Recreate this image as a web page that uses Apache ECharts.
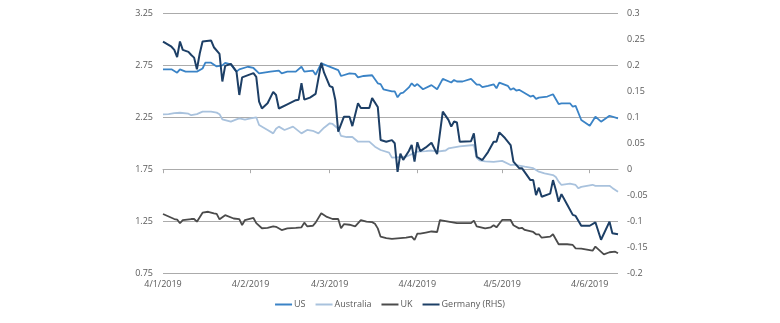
<!DOCTYPE html>
<html>
<head>
<meta charset="utf-8">
<script src="https://cdn.jsdelivr.net/npm/echarts@6/dist/echarts.min.js"></script>
<style>
html,body{margin:0;padding:0;background:#fff;}
#chart{width:780px;height:323px;}
</style>
</head>
<body>
<div id="chart"></div>
<script>
// ---- DATA ----
const seriesNames = ['US', 'Australia', 'UK', 'Germany (RHS)'];

const usData = [
 ['2019-01-04',2.712],['2019-01-07',2.712],['2019-01-09',2.68],['2019-01-10',2.712],['2019-01-12',2.69],
 ['2019-01-16',2.69],['2019-01-18',2.72],['2019-01-19',2.776],['2019-01-21',2.776],['2019-01-23',2.74],
 ['2019-01-25',2.75],['2019-01-26',2.775],['2019-01-28',2.76],['2019-01-30',2.69],['2019-01-31',2.712],
 ['2019-02-03',2.737],['2019-02-05',2.725],['2019-02-07',2.674],['2019-02-11',2.69],['2019-02-14',2.70],
 ['2019-02-15',2.674],['2019-02-17',2.69],['2019-02-20',2.69],['2019-02-22',2.737],['2019-02-23',2.69],
 ['2019-02-26',2.70],['2019-02-27',2.66],['2019-03-01',2.77],['2019-03-07',2.705],['2019-03-08',2.648],
 ['2019-03-11',2.674],['2019-03-13',2.668],['2019-03-14',2.635],['2019-03-16',2.648],['2019-03-19',2.655],
 ['2019-03-21',2.577],['2019-03-22',2.57],['2019-03-23',2.52],['2019-03-26',2.50],['2019-03-27',2.50],
 ['2019-03-28',2.443],['2019-03-29',2.48],['2019-03-30',2.487],['2019-04-01',2.538],['2019-04-02',2.577],
 ['2019-04-03',2.55],['2019-04-04',2.57],['2019-04-06',2.52],['2019-04-09',2.56],['2019-04-11',2.52],
 ['2019-04-13',2.62],['2019-04-16',2.585],['2019-04-17',2.61],['2019-04-18',2.595],['2019-04-20',2.595],
 ['2019-04-23',2.62],['2019-04-25',2.565],['2019-04-26',2.565],['2019-04-27',2.54],['2019-04-29',2.553],
 ['2019-05-01',2.568],['2019-05-02',2.53],['2019-05-03',2.584],['2019-05-06',2.553],['2019-05-07',2.515],
 ['2019-05-08',2.53],['2019-05-09',2.508],['2019-05-10',2.515],['2019-05-13',2.468],['2019-05-14',2.45],
 ['2019-05-15',2.458],['2019-05-16',2.427],['2019-05-17',2.44],['2019-05-20',2.45],['2019-05-22',2.472],
 ['2019-05-24',2.378],['2019-05-25',2.385],['2019-05-28',2.385],['2019-05-29',2.352],['2019-05-30',2.36],
 ['2019-06-01',2.224],['2019-06-04',2.169],['2019-06-06',2.256],['2019-06-08',2.208],['2019-06-11',2.265],
 ['2019-06-14',2.24]
];

const australiaData = [
 ['2019-01-04',2.279],['2019-01-06',2.28],['2019-01-08',2.29],['2019-01-10',2.294],['2019-01-13',2.285],
 ['2019-01-14',2.27],['2019-01-16',2.28],['2019-01-18',2.304],['2019-01-21',2.304],['2019-01-23',2.295],
 ['2019-01-24',2.28],['2019-01-25',2.23],['2019-01-28',2.208],['2019-01-30',2.23],['2019-01-31',2.24],
 ['2019-02-02',2.228],['2019-02-04',2.24],['2019-02-06',2.25],['2019-02-07',2.176],['2019-02-10',2.128],
 ['2019-02-12',2.095],['2019-02-13',2.14],['2019-02-14',2.16],['2019-02-16',2.128],['2019-02-19',2.16],
 ['2019-02-22',2.095],['2019-02-24',2.128],['2019-02-26',2.12],['2019-02-28',2.095],['2019-03-02',2.15],
 ['2019-03-04',2.192],['2019-03-05',2.186],['2019-03-07',2.14],['2019-03-08',2.07],['2019-03-10',2.06],
 ['2019-03-12',2.06],['2019-03-14',2.015],['2019-03-18',2.015],['2019-03-20',1.967],['2019-03-22',1.935],
 ['2019-03-25',1.91],['2019-03-26',1.861],['2019-03-31',1.87],['2019-04-04',1.919],['2019-04-07',1.925],
 ['2019-04-09',1.93],['2019-04-11',1.92],['2019-04-14',1.93],['2019-04-15',1.95],['2019-04-17',1.96],
 ['2019-04-19',1.97],['2019-04-24',1.983],['2019-04-25',1.86],['2019-04-26',1.835],['2019-04-28',1.825],
 ['2019-05-01',1.82],['2019-05-04',1.83],['2019-05-07',1.79],['2019-05-08',1.795],['2019-05-12',1.774],
 ['2019-05-15',1.76],['2019-05-17',1.726],['2019-05-19',1.71],['2019-05-22',1.694],['2019-05-23',1.675],
 ['2019-05-24',1.63],['2019-05-25',1.598],['2019-05-28',1.61],['2019-05-30',1.598],['2019-05-31',1.566],
 ['2019-06-01',1.58],['2019-06-05',1.60],['2019-06-06',1.59],['2019-06-09',1.59],['2019-06-11',1.59],
 ['2019-06-12',1.57],['2019-06-14',1.533]
];

const ukData = [
 ['2019-01-04',1.318],['2019-01-08',1.27],['2019-01-09',1.265],['2019-01-10',1.229],['2019-01-11',1.26],
 ['2019-01-14',1.27],['2019-01-15',1.27],['2019-01-16',1.244],['2019-01-18',1.331],['2019-01-20',1.34],
 ['2019-01-22',1.325],['2019-01-23',1.32],['2019-01-24',1.267],['2019-01-26',1.307],['2019-01-29',1.275],
 ['2019-01-31',1.27],['2019-02-01',1.212],['2019-02-02',1.26],['2019-02-05',1.28],['2019-02-06',1.23],
 ['2019-02-08',1.181],['2019-02-10',1.185],['2019-02-12',1.20],['2019-02-13',1.195],['2019-02-15',1.164],
 ['2019-02-17',1.18],['2019-02-20',1.185],['2019-02-22',1.19],['2019-02-23',1.235],['2019-02-24',1.20],
 ['2019-02-26',1.205],['2019-02-27',1.235],['2019-03-01',1.325],['2019-03-03',1.29],['2019-03-05',1.27],
 ['2019-03-07',1.27],['2019-03-08',1.181],['2019-03-09',1.22],['2019-03-11',1.215],['2019-03-13',1.20],
 ['2019-03-15',1.26],['2019-03-17',1.245],['2019-03-19',1.24],['2019-03-20',1.225],['2019-03-21',1.18],
 ['2019-03-22',1.10],['2019-03-24',1.085],['2019-03-26',1.078],['2019-03-28',1.084],['2019-03-31',1.09],
 ['2019-04-02',1.10],['2019-04-03',1.068],['2019-04-04',1.13],['2019-04-05',1.13],['2019-04-07',1.14],
 ['2019-04-09',1.15],['2019-04-11',1.145],['2019-04-12',1.26],['2019-04-16',1.24],['2019-04-18',1.23],
 ['2019-04-21',1.23],['2019-04-23',1.23],['2019-04-24',1.255],['2019-04-25',1.20],['2019-04-28',1.18],
 ['2019-04-30',1.19],['2019-05-01',1.21],['2019-05-02',1.19],['2019-05-04',1.261],['2019-05-07',1.261],
 ['2019-05-08',1.21],['2019-05-10',1.18],['2019-05-11',1.185],['2019-05-12',1.165],['2019-05-15',1.145],
 ['2019-05-16',1.123],['2019-05-17',1.123],['2019-05-18',1.09],['2019-05-21',1.10],['2019-05-22',1.123],
 ['2019-05-24',1.027],['2019-05-27',1.027],['2019-05-29',1.02],['2019-05-30',0.988],['2019-06-01',0.985],
 ['2019-06-03',0.975],['2019-06-05',0.965],['2019-06-06',1.004],['2019-06-09',0.93],['2019-06-11',0.95],
 ['2019-06-13',0.955],['2019-06-14',0.94]
];

const germanyData = [
 ['2019-01-04',0.246],['2019-01-07',0.236],['2019-01-08',0.23],['2019-01-09',0.216],['2019-01-10',0.246],
 ['2019-01-11',0.23],['2019-01-13',0.226],['2019-01-14',0.22],['2019-01-15',0.215],['2019-01-16',0.1925],
 ['2019-01-17',0.223],['2019-01-18',0.246],['2019-01-21',0.248],['2019-01-22',0.235],['2019-01-24',0.222],
 ['2019-01-25',0.169],['2019-01-26',0.199],['2019-01-28',0.203],['2019-01-30',0.188],['2019-01-31',0.143],
 ['2019-02-01',0.177],['2019-02-05',0.185],['2019-02-06',0.178],['2019-02-07',0.13],['2019-02-08',0.117],
 ['2019-02-10',0.127],['2019-02-12',0.149],['2019-02-13',0.143],['2019-02-14',0.117],['2019-02-17',0.125],
 ['2019-02-20',0.133],['2019-02-21',0.134],['2019-02-22',0.166],['2019-02-23',0.134],['2019-02-25',0.138],
 ['2019-02-27',0.145],['2019-03-01',0.205],['2019-03-02',0.186],['2019-03-04',0.16],['2019-03-05',0.158],
 ['2019-03-06',0.133],['2019-03-07',0.0723],['2019-03-09',0.101],['2019-03-11',0.101],['2019-03-12',0.083],
 ['2019-03-14',0.127],['2019-03-15',0.118],['2019-03-18',0.118],['2019-03-19',0.137],['2019-03-21',0.12],
 ['2019-03-22',0.0563],['2019-03-24',0.053],['2019-03-26',0.056],['2019-03-27',0.05],['2019-03-28',-0.005],
 ['2019-03-29',0.03],['2019-03-30',0.018],['2019-04-01',0.035],['2019-04-02',0.047],['2019-04-03',0.0145],
 ['2019-04-04',0.052],['2019-04-05',0.035],['2019-04-07',0.042],['2019-04-09',0.051],['2019-04-11',0.029],
 ['2019-04-13',0.111],['2019-04-15',0.095],['2019-04-16',0.082],['2019-04-17',0.092],['2019-04-18',0.09],
 ['2019-04-19',0.053],['2019-04-23',0.054],['2019-04-24',0.069],['2019-04-25',0.024],['2019-04-27',0.0177],
 ['2019-04-29',0.033],['2019-05-01',0.053],['2019-05-02',0.053],['2019-05-03',0.071],['2019-05-05',0.06],
 ['2019-05-07',0.0466],['2019-05-08',0.0145],['2019-05-10',0.002],['2019-05-11',0.002],['2019-05-14',-0.021],
 ['2019-05-15',-0.021],['2019-05-16',-0.05],['2019-05-17',-0.0356],['2019-05-18',-0.053],['2019-05-21',-0.047],
 ['2019-05-22',-0.021],['2019-05-23',-0.04],['2019-05-24',-0.0626],['2019-05-25',-0.048],['2019-05-27',-0.068],
 ['2019-05-29',-0.088],['2019-05-30',-0.09],['2019-06-01',-0.109],['2019-06-04',-0.109],['2019-06-06',-0.1023],
 ['2019-06-08',-0.136],['2019-06-11',-0.101],['2019-06-12',-0.1235],['2019-06-14',-0.1255]
];

const xRange      = ['2019-01-04', '2019-06-14'];
const xTickDates  = ['2019-01-04','2019-02-04','2019-03-04','2019-04-04','2019-05-04','2019-06-04'];
const xTickLabels = ['4/1/2019','4/2/2019','4/3/2019','4/4/2019','4/5/2019','4/6/2019'];
const leftTicks   = [0.75, 1.25, 1.75, 2.25, 2.75, 3.25];
const rightTicks  = [-0.2, -0.15, -0.1, -0.05, 0, 0.05, 0.1, 0.15, 0.2, 0.25, 0.3];

// ---- CHART ----
const toTime = d => echarts.time.parse(d).getTime();
const chart = echarts.init(document.getElementById('chart'), null, {renderer: 'canvas'});
const font = '"Open Sans", "Noto Sans", sans-serif';
const labelColor = '#5a5a5a';
const gridColor = '#ababab';
const tickTimes = xTickDates.map(toTime);

const colors = ['#3a83c6', '#a9c2dd', '#4b4b4b', '#1d3f66'];
const widths = [1.8, 1.8, 1.8, 2];
const datas = [usData, australiaData, ukData, germanyData];

chart.setOption({
  animation: false,
  backgroundColor: '#ffffff',
  textStyle: {fontFamily: font},
  grid: {left: 163, right: 162, top: 13.5, bottom: 50, containLabel: false},
  legend: {
    bottom: 9, left: 'center',
    icon: 'rect', itemWidth: 17, itemHeight: 2, itemGap: 10,
    textStyle: {color: labelColor, fontSize: 9, fontFamily: font, padding: [0, 0, 0, -3]},
    data: seriesNames
  },
  xAxis: {
    type: 'value',
    min: toTime(xRange[0]),
    max: toTime(xRange[1]),
    axisLine: {show: true, lineStyle: {color: gridColor, width: 1}},
    axisTick: {show: true, length: 4, customValues: tickTimes, lineStyle: {color: gridColor}},
    axisLabel: {
      customValues: tickTimes,
      color: labelColor, fontSize: 9, fontFamily: font, margin: 7,
      formatter: function (v) {
        const i = tickTimes.indexOf(v);
        return i >= 0 ? xTickLabels[i] : '';
      }
    },
    splitLine: {show: false}
  },
  yAxis: [
    {
      type: 'value', position: 'left',
      min: 0.75, max: 3.25,
      axisLine: {show: false},
      axisTick: {show: false, customValues: leftTicks},
      axisLabel: {customValues: leftTicks, color: labelColor, fontSize: 9, fontFamily: font, margin: 10,
                  formatter: v => v.toFixed(2)},
      splitLine: {show: true, lineStyle: {color: gridColor, width: 1}}
    },
    {
      type: 'value', position: 'right',
      min: -0.2, max: 0.3,
      axisLine: {show: false},
      axisTick: {show: false, customValues: rightTicks},
      axisLabel: {customValues: rightTicks, color: labelColor, fontSize: 9, fontFamily: font, margin: 9,
                  formatter: v => String(Math.round(v * 100) / 100)},
      splitLine: {show: false}
    }
  ],
  series: seriesNames.map((name, i) => ({
    name: name,
    type: 'line',
    yAxisIndex: i === 3 ? 1 : 0,
    data: datas[i].map(p => [toTime(p[0]), p[1]]),
    showSymbol: false,
    symbol: 'none',
    color: colors[i],
    lineStyle: {color: colors[i], width: widths[i]}
  }))
});
</script>
</body>
</html>
